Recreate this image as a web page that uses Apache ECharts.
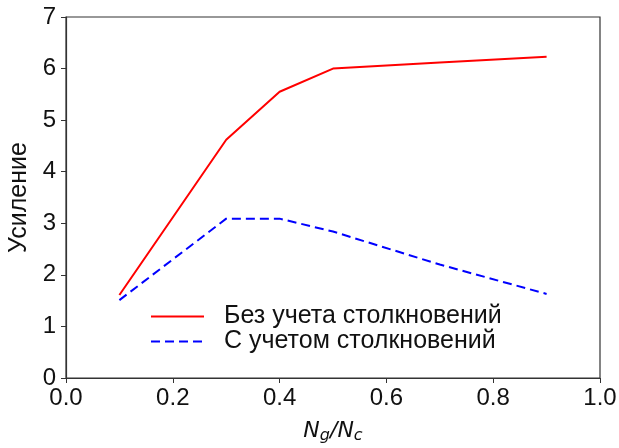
<!DOCTYPE html>
<html>
<head>
<meta charset="utf-8">
<script src="https://cdn.jsdelivr.net/npm/echarts@6/dist/echarts.min.js"></script>
<style>
  html, body { margin: 0; padding: 0; background: #fff; }
  #chart { width: 619px; height: 448px; }
</style>
</head>
<body>
<div id="chart"></div>
<script>
// Ratio N_g / N_c
const ratio = [0.1, 0.3, 0.4, 0.5, 0.7, 0.9];
// Gain without collisions
const gainNoCollisions = [1.61, 4.62, 5.55, 6.0, 6.12, 6.23];
// Gain with collisions
const gainCollisions = [1.51, 3.09, 3.09, 2.84, 2.2, 1.63];

const seriesNames = ['Без учета столкновений', 'С учетом столкновений'];

const pairs = (xs, ys) => xs.map((x, i) => [x, ys[i]]);

const font = 'Arial, "Liberation Sans", sans-serif';
const mathFont = '"DejaVu Sans", sans-serif';
const axisColor = '#333';
const textColor = '#111';

const chart = echarts.init(document.getElementById('chart'), null, { renderer: 'canvas' });

chart.setOption({
  animation: false,
  backgroundColor: '#fff',
  textStyle: { fontFamily: font },
  grid: {
    left: 66, right: 19, top: 17, bottom: 70,
    show: true, borderColor: axisColor, borderWidth: 1.2,
    containLabel: false,
    outerBoundsMode: 'none'
  },
  legend: {
    orient: 'vertical',
    left: 150, top: 304,
    padding: 0,
    itemWidth: 53, itemHeight: 14, itemGap: 0,
    itemStyle: { opacity: 0 },
    textStyle: { fontSize: 25, lineHeight: 24, color: textColor, fontFamily: font, padding: [0, 0, 0, 15] },
    data: seriesNames
  },
  xAxis: {
    type: 'value',
    min: 0, max: 1, interval: 0.2,
    name: '{n|N}{s|g}{n|/N}{s|c}',
    nameLocation: 'middle',
    nameGap: 40,
    nameTextStyle: {
      rich: {
        n: { fontSize: 22, fontStyle: 'italic', color: textColor, fontFamily: mathFont },
        s: { fontSize: 16, fontStyle: 'italic', color: textColor, fontFamily: mathFont, padding: [10, 0, 0, 0] }
      }
    },
    axisLine: { show: true, lineStyle: { color: axisColor, width: 1.2 } },
    axisTick: { show: true, inside: false, length: 5, lineStyle: { color: axisColor } },
    axisLabel: { fontSize: 24, color: textColor, margin: 8, formatter: v => v.toFixed(1) },
    splitLine: { show: false }
  },
  yAxis: {
    type: 'value',
    min: 0, max: 7, interval: 1,
    name: 'Усиление',
    nameLocation: 'middle',
    nameGap: 31,
    nameTextStyle: { fontSize: 25, color: textColor, fontFamily: font },
    axisLine: { show: true, lineStyle: { color: axisColor, width: 1.2 } },
    axisTick: { show: true, inside: false, length: 5, lineStyle: { color: axisColor } },
    axisLabel: { fontSize: 24, color: textColor, margin: 10 },
    splitLine: { show: false }
  },
  series: [
    {
      name: seriesNames[0],
      type: 'line',
      data: pairs(ratio, gainNoCollisions),
      symbol: 'none',
      color: '#ff0000',
      lineStyle: { color: '#ff0000', width: 2 }
    },
    {
      name: seriesNames[1],
      type: 'line',
      data: pairs(ratio, gainCollisions),
      symbol: 'none',
      color: '#0000ff',
      lineStyle: { color: '#0000ff', width: 2, type: [9, 5] }
    }
  ]
});
</script>
</body>
</html>
